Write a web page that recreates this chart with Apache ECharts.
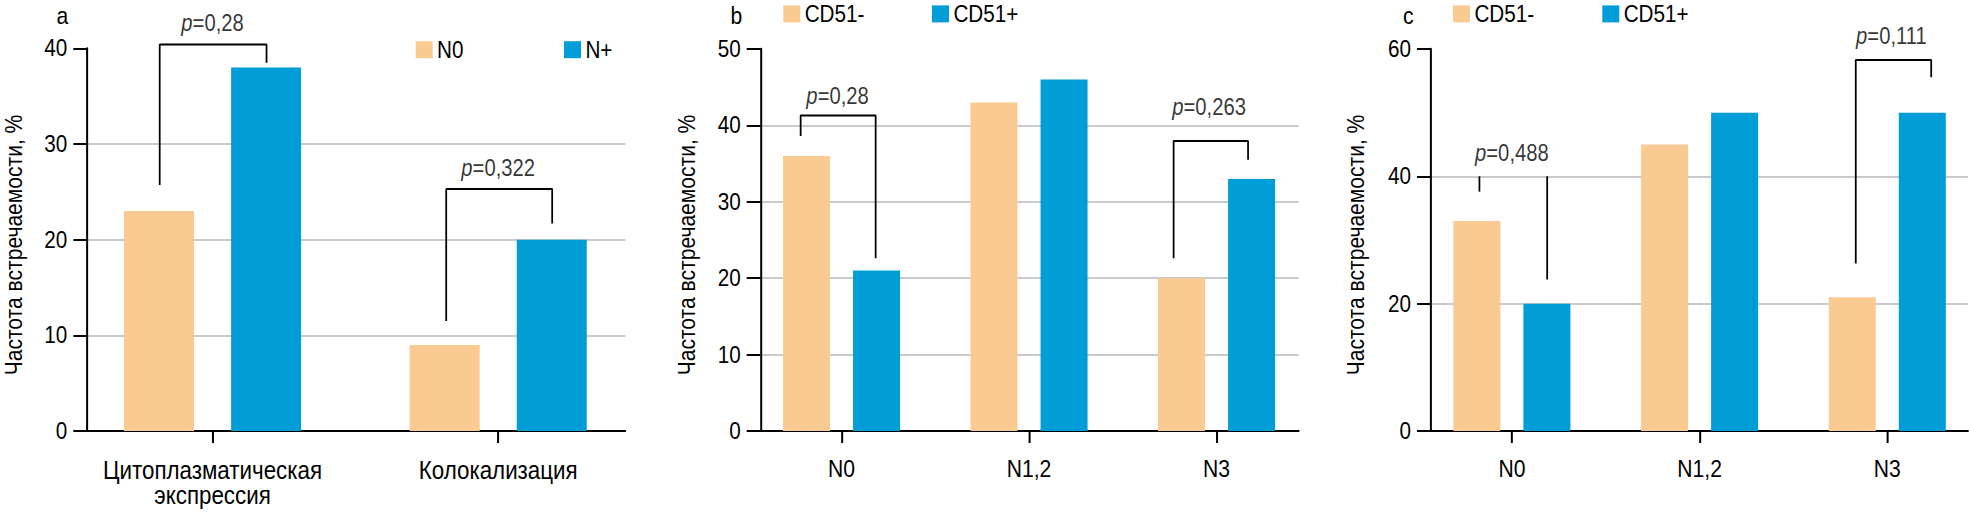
<!DOCTYPE html>
<html>
<head>
<meta charset="utf-8">
<script src="https://cdn.jsdelivr.net/npm/echarts@6/dist/echarts.min.js"></script>
<style>
html,body{margin:0;padding:0;background:#fff;overflow:hidden;width:1969px;height:516px;}
#wrap{position:absolute;left:0;top:0;width:1969px;height:516px;overflow:hidden;}
#chart{position:absolute;left:0;top:0;height:516px;transform-origin:0 0;}
</style>
</head>
<body>
<div id="wrap"><div id="chart"></div></div>
<script>
// ---- data ----
const categoriesA = ['Цитоплазматическая\nэкспрессия', 'Колокализация'];
const categoriesB = ['N0', 'N1,2', 'N3'];
const categoriesC = ['N0', 'N1,2', 'N3'];
const seriesNamesA = ['N0', 'N+'];
const seriesNamesBC = ['CD51-', 'CD51+'];
const valuesA_N0 = [23, 9];
const valuesA_Nplus = [38, 20];
const valuesB_neg = [36, 43, 20];
const valuesB_pos = [21, 46, 33];
const valuesC_neg = [33, 45, 21];
const valuesC_pos = [20, 50, 50];
const ticksA = [0, 10, 20, 30, 40];
const ticksB = [0, 10, 20, 30, 40, 50];
const ticksC = [0, 20, 40, 60];
const pValuesA = ['0,28', '0,322'];
const pValuesB = ['0,28', '0,263'];
const pValuesC = ['0,488', '0,111'];
const yTitle = 'Частота встречаемости, %';
const panelLetters = ['a', 'b', 'c'];

// ---- annotation geometry (data units) ----
const bracketsA = [
  {cat: 0, x1: -0.185, x2: 0.189, top: 40.4, yL: 25.7, yR: 38.5, tx: 0, ty: 42.6},
  {cat: 1, x1: -0.182, x2: 0.189, top: 25.3, yL: 11.5, yR: 21.7, tx: 0, ty: 27.5}
];
const bracketsB = [
  {cat: 0, x1: -0.218, x2: 0.182, top: 41.3, yL: 38.6, yR: 22.6, tx: -0.021, ty: 43.85},
  {cat: 2, x1: -0.229, x2: 0.168, top: 37.96, yL: 22.6, yR: 35.5, tx: -0.04, ty: 42.4}
];
const bracketsC = [
  {cat: 0, x1: -0.173, x2: 0.188, top: 40, yL: 37.6, yR: 23.8, tx: 0, ty: 43.6, noTop: true},
  {cat: 2, x1: -0.168, x2: 0.234, top: 58.27, yL: 26.3, yR: 55.55, tx: 0.022, ty: 62.0}
];

// horizontal condensation of the whole drawing (narrow typeface look)
const S = 0.88;
const X = v => v / S;
const W = 1969, H = 516;
const el = document.getElementById('chart');
el.style.width = X(W) + 'px';
el.style.transform = 'scaleX(' + S + ')';

const FONT = "'Liberation Sans', Arial, sans-serif";
const ORANGE = '#F9CA91';
const BLUE = '#009DD7';
const GRIDC = '#b8b8b8';

const chart = echarts.init(el, null, {renderer: 'svg', width: X(W), height: H});

const panels = [
  {left: 87.3, top: 48.3, width: 538, height: 382.7, cats: categoriesA, catFs: 25.4, min: -0.4385, max: 1.445, ymax: 40, yint: 10, ticks: ticksA,
   names: seriesNamesA, vals: [valuesA_N0, valuesA_Nplus], barWidth: 70, barGap: '53%', brackets: bracketsA, p: pValuesA, titleX: 14.5},
  {left: 760.7, top: 49, width: 538, height: 382, cats: categoriesB, catFs: 24, min: -0.431, max: 2.438, ymax: 50, yint: 10, ticks: ticksB,
   names: seriesNamesBC, vals: [valuesB_neg, valuesB_pos], barWidth: 47, barGap: '49%', brackets: bracketsB, p: pValuesB, titleX: 687.4},
  {left: 1431, top: 49, width: 537, height: 382, cats: categoriesC, catFs: 24, min: -0.431, max: 2.43, ymax: 60, yint: 20, ticks: ticksC,
   names: seriesNamesBC, vals: [valuesC_neg, valuesC_pos], barWidth: 47, barGap: '49%', brackets: bracketsC, p: pValuesC, titleX: 1356.5}
];

const grids = [], xAxes = [], yAxes = [], series = [], graphics = [];
panels.forEach((pn, i) => {
  grids.push({containLabel: false, outerBoundsMode: 'none', left: X(pn.left), top: pn.top, width: X(pn.width), height: pn.height});
  const idx = pn.cats.map((c, k) => k);
  xAxes.push({
    type: 'value', gridIndex: i, min: pn.min, max: pn.max,
    axisLine: {show: true, onZero: false, lineStyle: {color: '#000', width: 2}},
    axisTick: {show: true, customValues: idx, length: 12, inside: false, lineStyle: {color: '#000', width: 2 / S}},
    axisLabel: {show: true, customValues: idx, formatter: v => pn.cats[Math.round(v)], margin: 26,
      fontSize: pn.catFs, lineHeight: 25, color: '#000', fontFamily: FONT},
    splitLine: {show: false}, minorTick: {show: false}
  });
  yAxes.push({
    type: 'value', gridIndex: i, min: 0, max: pn.ymax, interval: pn.yint,
    axisLine: {show: true, onZero: false, lineStyle: {color: '#000', width: 2 / S}},
    axisTick: {show: true, length: X(14), inside: false, lineStyle: {color: '#000', width: 2}},
    axisLabel: {show: true, margin: X(20), fontSize: 23.5, color: '#000', fontFamily: FONT},
    splitLine: {show: true, showMinLine: false, showMaxLine: false, lineStyle: {color: GRIDC, width: 1.5}}
  });
  graphics.push({
    type: 'text', x: X(pn.titleX), y: 245, rotation: Math.PI / 2, scaleX: 0.878, scaleY: 1 / S, silent: true,
    style: {text: yTitle, fontSize: 24, fontFamily: FONT, fill: '#000', textAlign: 'center', textVerticalAlign: 'middle'}
  });
  pn.names.forEach((nm, s) => {
    series.push({
      type: 'bar', name: nm, xAxisIndex: i, yAxisIndex: i,
      data: pn.vals[s].map((v, k) => [k, v]),
      barWidth: X(pn.barWidth), barGap: pn.barGap,
      itemStyle: {color: s === 0 ? ORANGE : BLUE},
      silent: true, animation: false, z: 2
    });
  });
  pn.brackets.forEach((b, k) => {
    const L = b.cat + b.x1, R = b.cat + b.x2;
    const segs = b.noTop
      ? [[[L, b.top], [L, b.yL]], [[R, b.top], [R, b.yR]]]
      : [[[L, b.yL], [L, b.top], [R, b.top], [R, b.yR]]];
    segs.forEach(seg => {
      series.push({
        type: 'line', xAxisIndex: i, yAxisIndex: i, data: seg, symbol: 'none',
        lineStyle: {color: '#000', width: 2}, clip: false, silent: true, animation: false, z: 5
      });
    });
    series.push({
      type: 'scatter', xAxisIndex: i, yAxisIndex: i, data: [[b.cat + b.tx, b.ty]],
      symbolSize: 1, itemStyle: {color: 'rgba(0,0,0,0)'}, clip: false, silent: true, animation: false, z: 6,
      label: {show: true, position: 'inside', formatter: '{i|p}=' + pn.p[k], fontSize: 23, color: '#000', fontFamily: FONT,
        rich: {i: {fontStyle: 'italic', fontSize: 23, color: '#000', fontFamily: FONT}}}
    });
  });
});

const legendBase = {orient: 'horizontal', padding: 0, itemWidth: X(17), itemHeight: 17, itemGap: 0, icon: 'rect', selectedMode: false,
  textStyle: {fontSize: 23.5, lineHeight: 25, color: '#000', fontFamily: FONT}};
const legendPos = [
  ['N0', 415.7, 37.2], ['N+', 564, 37.2],
  ['CD51-', 783.3, 1.4], ['CD51+', 932, 1.4],
  ['CD51-', 1453, 1.4], ['CD51+', 1602.3, 1.4]
];
const legends = legendPos.map(l => Object.assign({}, legendBase, {data: [l[0]], left: X(l[1]), top: l[2]}));

const titleBase = {padding: 0, top: 4, textStyle: {fontSize: 24, fontWeight: 'normal', color: '#000', fontFamily: FONT}};
const titleX = [56.5, 730.5, 1403];
const titles = panelLetters.map((t, k) => Object.assign({}, titleBase, {text: t, left: X(titleX[k])}));

chart.setOption({
  animation: false,
  backgroundColor: '#fff',
  title: titles,
  legend: legends,
  grid: grids,
  xAxis: xAxes,
  yAxis: yAxes,
  graphic: graphics,
  series: series
});
</script>
</body>
</html>
